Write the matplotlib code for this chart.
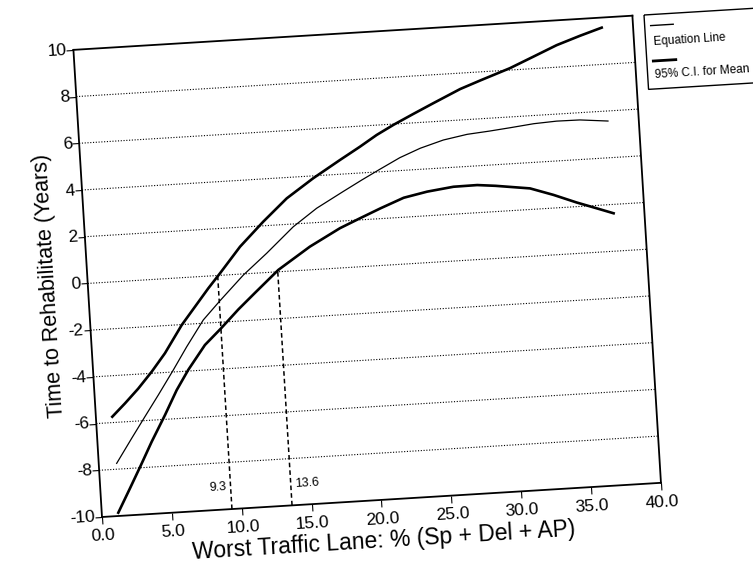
import numpy as np
import matplotlib
matplotlib.use("Agg")
import matplotlib.pyplot as plt
from matplotlib.transforms import Affine2D
from matplotlib.lines import Line2D
from matplotlib.patches import Rectangle
import mpl_toolkits.axisartist.floating_axes as floating_axes
from mpl_toolkits.axisartist.grid_finder import FixedLocator, DictFormatter

plt.rcParams['font.family'] = ['Liberation Sans', 'DejaVu Sans']

# ---------------- data ----------------
x_ticks = [0, 5, 10, 15, 20, 25, 30, 35, 40]
x_tick_labels = ["0.0", "5.0", "10.0", "15.0", "20.0", "25.0", "30.0", "35.0", "40.0"]
y_ticks = [-10, -8, -6, -4, -2, 0, 2, 4, 6, 8, 10]
y_tick_labels = ["-10", "-8", "-6", "-4", "-2", "0", "2", "4", "6", "8", "10"]
grid_y = [-8, -6, -4, -2, 0, 2, 4, 6, 8]

eq_x = [1.28, 2.46, 3.5, 4.55, 5.72, 6.78, 8.08, 9.36, 11.13, 12.89, 14.9, 16.65,
        18.6, 20.0, 21.3, 22.8, 24.3, 25.98, 27.7, 29.3, 30.8, 32.5, 34.14, 35.8, 37.8]
eq_y = [-7.75, -6.72, -5.83, -4.94, -3.92, -2.96, -1.86, -1.08, -0.05, 0.82, 1.88, 2.61,
        3.25, 3.7, 4.1, 4.55, 4.9, 5.19, 5.37, 5.45, 5.54, 5.65, 5.7, 5.69, 5.57]

upper_x = [1.17, 2.14, 3.14, 4.18, 5.2, 6.52, 7.55, 8.58, 9.48, 11.02, 12.79, 14.56,
           16.54, 18.53, 20.0, 21.25, 22.5, 23.95, 25.4, 27.4, 28.9, 31.04, 32.76,
           34.47, 36.18, 37.76]
upper_y = [-5.75, -5.21, -4.62, -3.93, -3.18, -2.02, -1.27, -0.52, 0.09, 1.17, 2.18, 3.11,
           3.9, 4.61, 5.12, 5.58, 5.97, 6.38, 6.78, 7.32, 7.64, 8.08, 8.51,
           8.94, 9.28, 9.57]

lower_x = [1.18, 2.12, 3.01, 3.87, 4.94, 5.88, 6.79, 8.09, 9.3, 10.63, 11.9, 13.65,
           16.0, 18.23, 19.7, 21.2, 22.9, 24.6, 26.5, 28.2, 29.5, 31.95, 33.6, 35.2,
           36.6, 37.8]
lower_y = [-9.86, -8.85, -7.88, -6.92, -5.81, -4.78, -3.95, -2.93, -2.27, -1.5, -0.83, 0.08,
           0.99, 1.7, 2.07, 2.44, 2.83, 3.03, 3.17, 3.18, 3.1, 2.9, 2.56, 2.18,
           1.88, 1.62]

cross_x = [9.3, 13.6]
cross_y = 0.0

legend_labels = ["Equation Line", "95% C.I. for Mean"]
xlabel = "Worst Traffic Lane: % (Sp + Del + AP)"
ylabel = "Time to Rehabilitate (Years)"

# ---------------- layout ----------------
W, H, DPI = 753, 563, 100
ANGLE = 3.5          # the scanned page is slightly rotated
SX, SY = 14.0, 23.4  # pixels per data unit
XMIN, XMAX, YMIN, YMAX = 0, 40, -10, 10
ORIGIN_PX = (102, H - 517)  # figure pixel of data (0, -10)

fig = plt.figure(figsize=(W / DPI, H / DPI), dpi=DPI)

tr = Affine2D().scale(SX, SY).rotate_deg(ANGLE)
grid_helper = floating_axes.GridHelperCurveLinear(
    tr, extremes=(XMIN, XMAX, YMIN, YMAX),
    grid_locator1=FixedLocator(x_ticks),
    tick_formatter1=DictFormatter(dict(zip(x_ticks, x_tick_labels))),
    grid_locator2=FixedLocator(y_ticks),
    tick_formatter2=DictFormatter(dict(zip(y_ticks, y_tick_labels))))

corners = tr.transform(np.array([[XMIN, YMIN], [XMAX, YMIN], [XMIN, YMAX], [XMAX, YMAX]]))
cmin = corners.min(axis=0)
cmax = corners.max(axis=0)
ctr = (cmin + cmax) / 2
size = (cmax - cmin) * 1.02
o = tr.transform(np.array([[XMIN, YMIN]]))[0]
off = np.array(ORIGIN_PX) - o
left = (ctr[0] - size[0] / 2 + off[0]) / W
bottom = (ctr[1] - size[1] / 2 + off[1]) / H
ax = fig.add_axes([left, bottom, size[0] / W, size[1] / H],
                  axes_class=floating_axes.FloatingAxes, grid_helper=grid_helper)
aux = ax.get_aux_axes(tr)

for side in ["left", "bottom", "right", "top"]:
    a = ax.axis[side]
    a.line.set_linewidth(1.3)
    a.line.set_color("black")
for side in ["right", "top"]:
    ax.axis[side].major_ticks.set_visible(False)
    ax.axis[side].major_ticklabels.set_visible(False)
for side in ["left", "bottom"]:
    a = ax.axis[side]
    a.major_ticks.set_tick_out(True)
    a.major_ticks.set_ticksize(5)
    a.major_ticklabels.set_fontsize(12.5)
    a.label.set_visible(True)
ax.axis["left"].major_ticklabels.set_pad(0)

ax.axis["bottom"].label.set_text(xlabel)
ax.axis["bottom"].label.set_fontsize(16.5)
ax.axis["bottom"].label.set_pad(4)
ax.axis["left"].label.set_text(ylabel)
ax.axis["left"].label.set_fontsize(15.5)
ax.axis["left"].label.set_pad(-3)

# dotted horizontal gridlines
aux.hlines(grid_y, XMIN, XMAX, colors="black", linestyles=(0, (1, 1.5)), linewidth=0.8, zorder=1)

# curves
aux.plot(upper_x, upper_y, color="black", lw=1.9, zorder=3)
aux.plot(eq_x, eq_y, color="black", lw=0.9, zorder=3)
aux.plot(lower_x, lower_y, color="black", lw=1.9, zorder=3)

# vertical dashed markers where the CI crosses zero
aux.vlines(cross_x, YMIN, cross_y, colors="black", linestyles=(0, (3, 2)), linewidth=1.1, zorder=2)
aux.text(cross_x[0] - 0.3, -9.05, f"{cross_x[0]:.1f}", ha="right", va="center",
         fontsize=9, rotation=ANGLE, rotation_mode="anchor")
aux.text(cross_x[1] + 0.3, -9.1, f"{cross_x[1]:.1f}", ha="left", va="center",
         fontsize=9, rotation=ANGLE, rotation_mode="anchor")

# legend box (rotated like the page)
T_leg = (Affine2D().scale(1, -1).rotate_deg(ANGLE).translate(644, H - 15).scale(1 / DPI)
         + fig.dpi_scale_trans)
fig.add_artist(Rectangle((0, 0), 120, 74.5, fill=False, lw=1.0, ec="black", transform=T_leg))
fig.add_artist(Line2D([6, 28.6], [11, 11], lw=1.0, color="black", transform=T_leg))
fig.add_artist(Line2D([6.5, 29], [46.5, 46.5], lw=2.0, color="black", transform=T_leg))
fig.text(7.5, 28, legend_labels[0], transform=T_leg, rotation=ANGLE, rotation_mode="anchor",
         ha="left", va="center", fontsize=8.5)
fig.text(7.5, 60.5, legend_labels[1], transform=T_leg, rotation=ANGLE, rotation_mode="anchor",
         ha="left", va="center", fontsize=8.5)

fig.savefig("out.png", dpi=DPI)
